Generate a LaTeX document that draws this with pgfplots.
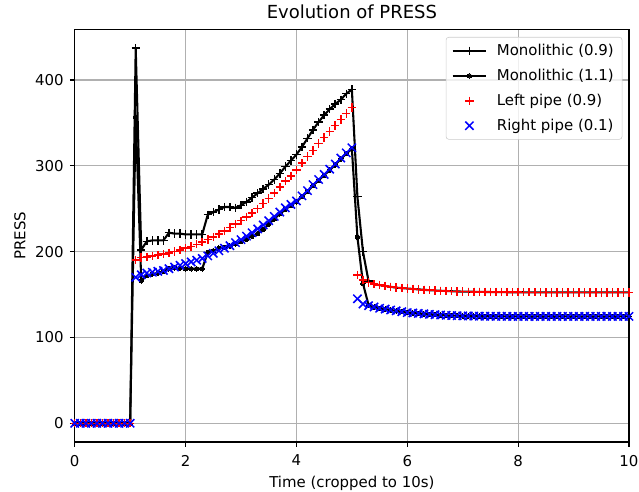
\documentclass[border=0pt]{standalone}
\usepackage{pgfplots}
\pgfplotsset{compat=1.18}
\usepackage{pgfplotstable}
\usepackage{fontspec}
\setmainfont{DejaVu Sans}

% PRESS minus offset 4.115e6
\pgfplotstableread{
t    m09   m11   left   right
0.0  0     0     0      0
0.1  0     0     0      0
0.2  0     0     0      0
0.3  0     0     0      0
0.4  0     0     0      0
0.5  0     0     0      0
0.6  0     0     0      0
0.7  0     0     0      0
0.8  0     0     0      0
0.9  0     0     0      0
1.0  0     0     0      0
1.1  437   357   190    170
1.2  202   166   193    173
1.3  212   172   194    175
1.4  213   174   195    176
1.5  213   175   196    177
1.6  213   177   197    178
1.7  222   180   198.5  180
1.8  221   181   200    182
1.9  221   181   202    184
2.0  220   180   204    186
2.1  220   180   206    188
2.2  220   180   208.5  190
2.3  220   180   211    192
2.4  243   199   214    195
2.5  246   201   217    198
2.6  249   204   220.5  201
2.7  252   205   224    204
2.8  252   206.5 228    207
2.9  251   209   232    210.5
3.0  254   211.5 236    214
3.1  258   214.5 240.5  218
3.2  263   218   245    222
3.3  268   221   250    226.5
3.4  273   226   256    231
3.5  278   232   262    236
3.6  284   238   268    241
3.7  291   244   275    246
3.8  299   249   282    251
3.9  306   254   288    255
4.0  313   258   295    259
4.1  322   264   303    265
4.2  332   270   311    271
4.3  342   277   318    278
4.4  351   283   326    284
4.5  359   289   333    290
4.6  366   295   340    296
4.7  372   301   347    302
4.8  377   308   354    309
4.9  384   314   361    315
5.0  389   320   368    321
5.1  264   217   173    145
5.2  200   163   167    139
5.3  166   138   164    137
5.4  162   135.5 162    135.5
5.5  161   134   161    134
5.6  160   133   160    133
5.7  159   132   159    132
5.8  158   131   158    131
5.9  157.5 130   157.5  130
6.0  157   129   157    129
6.1  156.5 128.5 156.5  128.5
6.2  156   128   156    128
6.3  155.5 127.5 155.5  127.5
6.4  155   127   155    127
6.5  154.7 126.5 154.7  126.5
6.6  154.4 126.1 154.4  126.1
6.7  154.1 125.8 154.1  125.8
6.8  153.8 125.5 153.8  125.5
6.9  153.6 125.3 153.6  125.3
7.0  153.4 125.1 153.4  125.1
7.1  153.3 125.0 153.3  125.0
7.2  153.2 124.9 153.2  124.9
7.3  153.1 124.8 153.1  124.8
7.4  153.0 124.7 153.0  124.7
7.5  152.9 124.7 152.9  124.7
7.6  152.8 124.6 152.8  124.6
7.7  152.8 124.6 152.8  124.6
7.8  152.7 124.6 152.7  124.6
7.9  152.7 124.5 152.7  124.5
8.0  152.7 124.5 152.7  124.5
8.1  152.6 124.5 152.6  124.5
8.2  152.6 124.5 152.6  124.5
8.3  152.6 124.5 152.6  124.5
8.4  152.6 124.5 152.6  124.5
8.5  152.5 124.5 152.5  124.5
8.6  152.5 124.5 152.5  124.5
8.7  152.5 124.5 152.5  124.5
8.8  152.5 124.5 152.5  124.5
8.9  152.5 124.5 152.5  124.5
9.0  152.5 124.5 152.5  124.5
9.1  152.5 124.5 152.5  124.5
9.2  152.5 124.5 152.5  124.5
9.3  152.5 124.5 152.5  124.5
9.4  152.5 124.5 152.5  124.5
9.5  152.5 124.5 152.5  124.5
9.6  152.5 124.5 152.5  124.5
9.7  152.5 124.5 152.5  124.5
9.8  152.5 124.5 152.5  124.5
9.9  152.5 124.5 152.5  124.5
10.0 152.5 124.5 152.5  124.5
}\press

\begin{document}
\begin{tikzpicture}
\begin{axis}[
    scale only axis,
    width=399bp, height=297bp,
    xmin=0, xmax=10,
    ymin=-21.85, ymax=458.85,
    xtick={0,2,...,10},
    ytick={0,100,...,400},
    tick pos=left,
    tick align=outside,
    major tick length=3.5bp,
    every tick/.style={black, line width=0.8bp},
    axis line style={line width=0.8bp},
    grid=major,
    major grid style={color=black!31, line width=0.8bp},
    ticklabel style={font=\fontsize{10.8}{13}\selectfont},
    xticklabel style={yshift=-2.3bp},
    yticklabel style={xshift=-1bp},
    /pgf/number format/assume math mode=true,
    xlabel={Time (cropped to 10s)},
    ylabel={PRESS},
    label style={font=\fontsize{10.8}{13}\selectfont},
    ylabel style={at={(axis description cs:-0.0988,0.5)}, anchor=center},
    title={Evolution of PRESS},
    title style={font=\fontsize{13}{15}\selectfont, yshift=-2bp},
    legend style={at={(1,1)}, anchor=north east, xshift=-4.8bp, yshift=-5.4bp,
        font=\fontsize{10.8}{13}\selectfont, draw=black!20, rounded corners=2bp,
        fill=white, fill opacity=0.8, text opacity=1, row sep=4.3bp,
        column sep=5bp, inner xsep=4bp, inner ysep=3bp},
    legend cell align=left,
    legend image code/.code={\draw[mark repeat=2,mark phase=2,#1]
        plot coordinates {(0cm,0cm) (0.425cm,0cm) (0.85cm,0cm)};},
]
\addplot[black, line width=1.5bp, mark=+, mark size=3bp,
    mark options={line width=1.1bp}] table[x=t, y=m09] {\press};
\addlegendentry{Monolithic (0.9)}
\addplot[black, line width=1.5bp, mark=*, mark size=1.6bp,
    mark options={line width=0bp}] table[x=t, y=m11] {\press};
\addlegendentry{Monolithic (1.1)}
\addplot[red, only marks, mark=+, mark size=3bp,
    mark options={line width=1.1bp}] table[x=t, y=left] {\press};
\addlegendentry{Left pipe (0.9)}
\addplot[blue, only marks, mark=x, mark size=4.2bp,
    mark options={line width=1.1bp}] table[x=t, y=right] {\press};
\addlegendentry{Right pipe (0.1)}
\node[anchor=south west, inner sep=0pt, font=\fontsize{10.8}{13}\selectfont]
    at (rel axis cs:0,1) [yshift=7bp] {+4.115e6};
\coordinate (ll) at (rel axis cs:0,0);
\coordinate (ur) at (rel axis cs:1,1);
\end{axis}
\pgfresetboundingbox
\path ([shift={(-53.8bp,-35.5bp)}]ll) rectangle ([shift={(7.2bp,21.2bp)}]ur);
\end{tikzpicture}
\end{document}
